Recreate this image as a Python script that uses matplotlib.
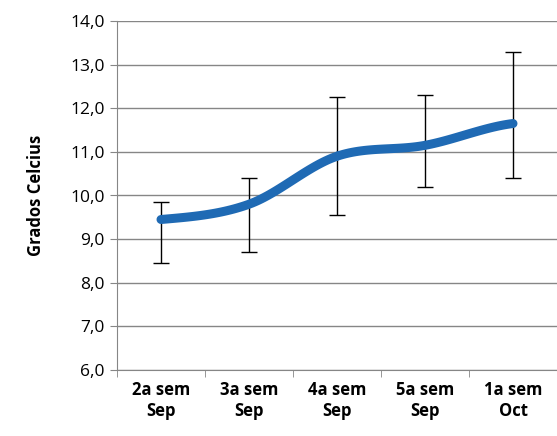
import numpy as np
import matplotlib
matplotlib.use("Agg")
import matplotlib.pyplot as plt

categories = ["2a sem\nSep", "3a sem\nSep", "4a sem\nSep", "5a sem\nSep", "1a sem\nOct"]
means = [9.45, 9.8, 10.9, 11.15, 11.65]
lower = [8.45, 8.7, 9.55, 10.2, 10.4]
upper = [9.85, 10.4, 12.25, 12.3, 13.3]

plt.rcParams['font.family'] = ['Open Sans', 'DejaVu Sans']
fig = plt.figure(figsize=(5.57, 4.36), dpi=100)
ax = fig.add_axes([117/557, 1-370/436, 440/557, 349/436])

x = np.arange(len(means))
y = np.array(means)
xs, ys = [], []
for i in range(len(x)-1):
    p0 = y[max(i-1, 0)]; p1 = y[i]; p2 = y[i+1]; p3 = y[min(i+2, len(y)-1)]
    t = np.linspace(0, 1, 30)
    seg = 0.5*((2*p1) + (-p0+p2)*t + (2*p0-5*p1+4*p2-p3)*t**2 + (-p0+3*p1-3*p2+p3)*t**3)
    xs.extend(x[i]+t); ys.extend(seg)
ax.plot(xs, ys, color='#1f6ab4', lw=6.5, solid_capstyle='round', zorder=3)
ax.errorbar(x, y, yerr=[y-np.array(lower), np.array(upper)-y], fmt='none',
            ecolor='black', elinewidth=1, capsize=6, capthick=1, zorder=2)

ax.set_xlim(-0.5, len(x)-0.5)
ax.set_ylim(6, 14)
ax.set_yticks(np.arange(6, 14.01, 1))
ax.set_yticklabels([f"{v:.1f}".replace('.', ',') for v in np.arange(6, 14.01, 1)], fontsize=12.5)
ax.set_xticks(x)
ax.set_xticklabels(categories, fontsize=12, fontweight='bold')
ax.set_xticks(np.arange(-0.5, len(x), 1), minor=True)
ax.tick_params(axis='x', which='major', length=0, pad=8)
ax.tick_params(axis='x', which='minor', length=5, color='#868686')
ax.tick_params(axis='y', length=5, color='#868686', direction='out', pad=4)
ax.grid(axis='y', color='#868686', lw=1)
ax.set_axisbelow(True)
for s in ['top', 'right']:
    ax.spines[s].set_visible(False)
for s in ['left', 'bottom']:
    ax.spines[s].set_color('#868686')
ax.set_ylabel("Grados Celcius", fontsize=12, fontweight='bold', labelpad=18)
fig.savefig("out.png", dpi=100)
